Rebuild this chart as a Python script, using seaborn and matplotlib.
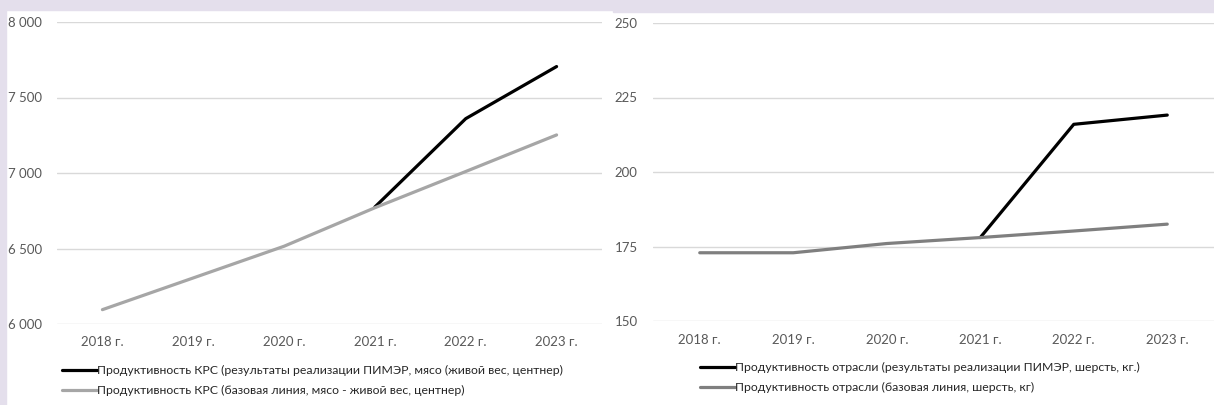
import matplotlib
matplotlib.use("Agg")
import matplotlib.pyplot as plt
from matplotlib.lines import Line2D
from matplotlib.patches import Rectangle
import numpy as np
import pandas as pd
import seaborn as sns

# Daten
years = ["2018 г.", "2019 г.", "2020 г.", "2021 г.", "2022 г.", "2023 г."]

krs_pimer = [np.nan, np.nan, np.nan, 6775, 7360, 7705]
krs_base = [6095, 6305, 6515, 6770, 7010, 7252]
krs_labels = ["Продуктивность КРС (результаты реализации ПИМЭР, мясо (живой вес, центнер)",
              "Продуктивность КРС (базовая линия, мясо - живой вес, центнер)"]
krs_ticks = [6000, 6500, 7000, 7500, 8000]

wool_pimer = [np.nan, np.nan, np.nan, 178.0, 216.0, 219.1]
wool_base = [172.9, 172.9, 176.0, 178.0, 180.2, 182.5]
wool_labels = ["Продуктивность отрасли (результаты реализации ПИМЭР, шерсть, кг.)",
               "Продуктивность отрасли (базовая линия, шерсть, кг)"]
wool_ticks = [150, 175, 200, 225, 250]

sns.set_theme(style="white")
plt.rcParams["font.family"] = ["Lato", "DejaVu Sans"]

W, H = 1214, 405
fig = plt.figure(figsize=(W / 100, H / 100), dpi=100)
fig.patch.set_facecolor("white")

lav = "#E4DFEC"
# Rahmen oben/links
fig.add_artist(Rectangle((0, 1 - 10 / H), 613 / W, 10 / H, transform=fig.transFigure, color=lav, zorder=0))
fig.add_artist(Rectangle((613 / W, 1 - 12 / H), 1 - 613 / W, 12 / H, transform=fig.transFigure, color=lav, zorder=0))
fig.add_artist(Rectangle((0, 0), 6 / W, 1, transform=fig.transFigure, color=lav, zorder=0))


def px_axes(x0, x1, ytop, ybot):
    return fig.add_axes([x0 / W, 1 - ybot / H, (x1 - x0) / W, (ybot - ytop) / H])


def draw(ax, pimer, base, labels, ticks, base_color, leg_x, leg_y, fmt):
    df = pd.DataFrame({"pos": range(len(years)), "pimer": pimer, "base": base})
    sns.lineplot(data=df, x="pos", y="pimer", ax=ax, color="black", linewidth=2.3, zorder=2)
    sns.lineplot(data=df, x="pos", y="base", ax=ax, color=base_color, linewidth=2.3, zorder=3)
    ax.set_xlim(-0.5, len(years) - 0.5)
    ax.set_ylim(ticks[0], ticks[-1])
    ax.set_xticks(range(len(years)))
    ax.set_xticklabels(years)
    ax.set_yticks(ticks)
    ax.set_yticklabels([fmt(t) for t in ticks])
    ax.set_xlabel("")
    ax.set_ylabel("")
    ax.grid(axis="y", color="#D9D9D9", linewidth=1)
    ax.set_axisbelow(True)
    for s in ax.spines.values():
        s.set_visible(False)
    ax.tick_params(axis="both", length=0, labelsize=9.5, labelcolor="#595959")
    ax.tick_params(axis="x", pad=9)
    ax.tick_params(axis="y", pad=11)
    ax.patch.set_alpha(0)
    handles = [Line2D([], [], color="black", linewidth=2.3),
               Line2D([], [], color=base_color, linewidth=2.3)]
    fig.legend(handles, labels, loc="upper left", bbox_to_anchor=(leg_x / W, 1 - leg_y / H),
               frameon=False, fontsize=8.8, handlelength=2.9, handletextpad=0.0,
               labelspacing=0.75, borderaxespad=0, borderpad=0, labelcolor="#262626")


ax1 = px_axes(57, 602, 22, 324)
draw(ax1, krs_pimer, krs_base, krs_labels, krs_ticks, "#A6A6A6", 62, 365,
     lambda v: f"{v:,}".replace(",", " "))

ax2 = px_axes(653, 1214, 23, 321)
draw(ax2, wool_pimer, wool_base, wool_labels, wool_ticks, "#7F7F7F", 700, 362,
     lambda v: f"{v}")

fig.savefig("out.png", dpi=100, facecolor=fig.get_facecolor())
